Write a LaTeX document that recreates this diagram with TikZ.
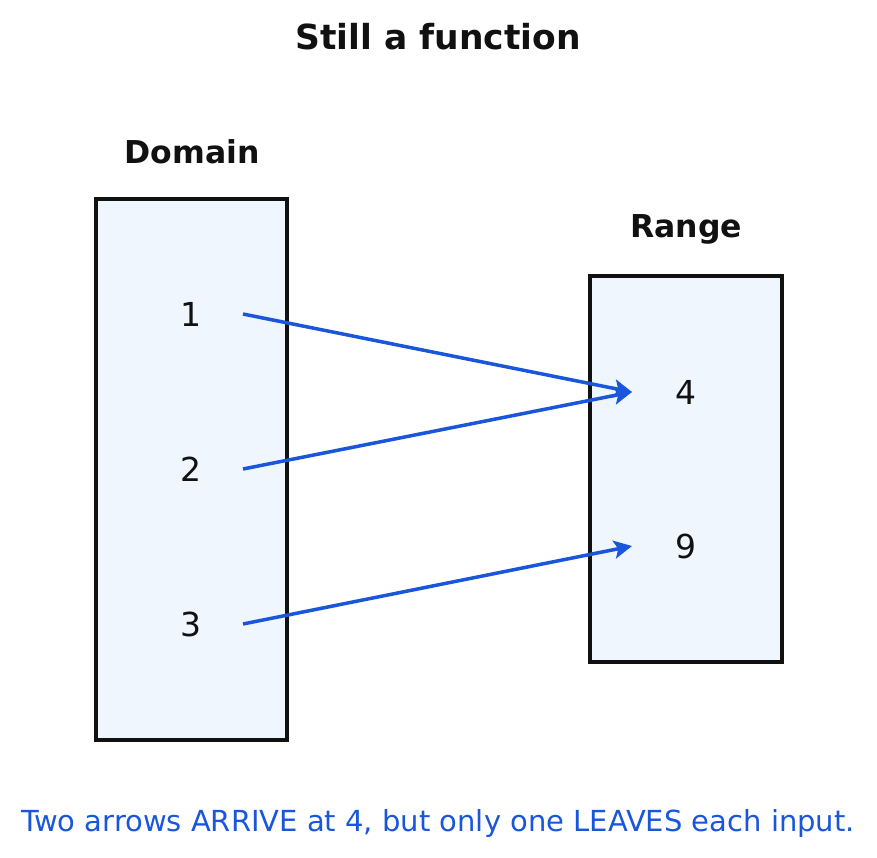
\documentclass[tikz,border=0pt]{standalone}
\usepackage{fontspec}
\setmainfont{DejaVu Sans}
\usetikzlibrary{arrows.meta}
\definecolor{ink}{HTML}{111111}
\definecolor{arr}{HTML}{1A56DB}
\definecolor{boxfill}{HTML}{F0F6FE}
\begin{document}
\begin{tikzpicture}[x=1pt,y=-1pt,
  set/.style={draw=ink,line width=4pt,fill=boxfill},
  num/.style={text=ink,font=\fontsize{33}{38}\selectfont},
  lab/.style={text=ink,font=\fontsize{31.5}{36}\selectfont\bfseries},
  map/.style={draw=arr,line width=3.5pt,-{Stealth[length=18pt,width=18pt,inset=4pt]}}]
\useasboundingbox (0,0) rectangle (877,857);
\node[text=ink,font=\fontsize{34.5}{40}\selectfont\bfseries] (title) at (438,37) {Still a function};
\node[lab] (dl) at (192,152) {Domain};
\node[lab] (rl) at (686,229) {Range};
\draw[set] (96,199) rectangle (287,740);
\draw[set] (590,276) rectangle (782,662);
\node[num] (d1) at (191,314) {1};
\node[num] (d2) at (191,469) {2};
\node[num] (d3) at (191,624) {3};
\node[num] (r4) at (686,392) {4};
\node[num] (r9) at (686,546) {9};
\coordinate (s1) at (243,314);
\coordinate (s2) at (243,469);
\coordinate (s3) at (243,624);
\coordinate (t4) at (632,392);
\coordinate (t9) at (632,546);
\draw[map] (s1) -- (t4);
\draw[map] (s2) -- (t4);
\draw[map] (s3) -- (t9);
\node[text=arr,font=\fontsize{29}{34}\selectfont] (foot) at (438,823) {Two arrows ARRIVE at 4, but only one LEAVES each input.};
\end{tikzpicture}
\end{document}
